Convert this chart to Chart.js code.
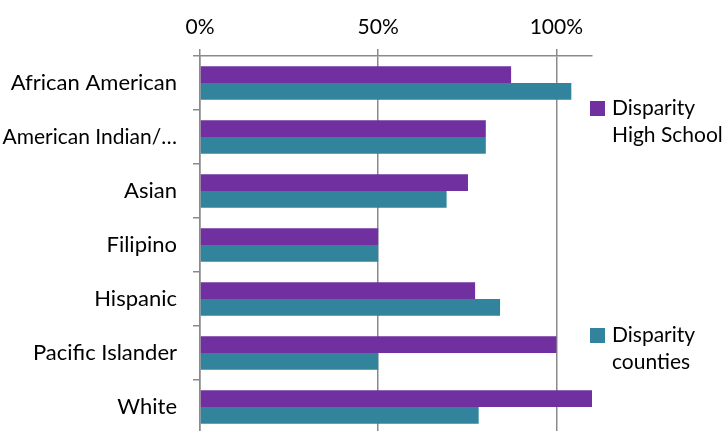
<!DOCTYPE html>
<html>
<head>
<meta charset="utf-8">
<script src="https://cdn.jsdelivr.net/npm/chart.js@4/dist/chart.umd.min.js"></script>
<style>
html,body{margin:0;padding:0;background:#fff;overflow:hidden;}
#wrap{width:723px;height:437px;position:relative;}
</style>
</head>
<body>
<div id="wrap"><canvas id="c" width="723" height="437"></canvas></div>
<script>
const categories = ["African American","American Indian/…","Asian","Filipino","Hispanic","Pacific Islander","White"];
const seriesNames = [["Disparity","High School"],["Disparity","counties"]];
const highSchool = [87.3, 80.2, 75.2, 50, 77.2, 100, 110];
const counties = [104.2, 80.2, 69.2, 50, 84.2, 50, 78.2];
const xTicks = [0, 50, 100];
const colors = ["#7030A0", "#31849B"];

const FONT = "Lato, 'Open Sans', sans-serif";
const GRID = "#8a8a8a";

const legendPlugin = {
  id: 'customLegend',
  afterDraw(chart) {
    const ctx = chart.ctx;
    const pos = [{box: 101, lines: [108, 135]}, {box: 328, lines: [335, 362]}];
    ctx.save();
    ctx.font = "21px " + FONT;
    ctx.textBaseline = "middle";
    ctx.textAlign = "left";
    chart.data.datasets.forEach((ds, i) => {
      ctx.fillStyle = ds.backgroundColor;
      ctx.fillRect(590, pos[i].box, 15, 15);
      ctx.fillStyle = "#000";
      ds.labelLines.forEach((t, j) => ctx.fillText(t, 612, pos[i].lines[j]));
    });
    ctx.restore();
  }
};

new Chart(document.getElementById('c'), {
  type: 'bar',
  data: {
    labels: categories,
    datasets: [
      {label: seriesNames[0].join(' '), labelLines: seriesNames[0], data: highSchool, backgroundColor: colors[0], categoryPercentage: 0.62, barPercentage: 1},
      {label: seriesNames[1].join(' '), labelLines: seriesNames[1], data: counties, backgroundColor: colors[1], categoryPercentage: 0.62, barPercentage: 1}
    ]
  },
  options: {
    indexAxis: 'y',
    responsive: false,
    animation: false,
    layout: {padding: {left: 0, right: 131, top: 0, bottom: 3}},
    plugins: {legend: {display: false}, tooltip: {enabled: false}},
    scales: {
      x: {
        position: 'top',
        min: 0, max: 110,
        afterBuildTicks(scale) { scale.ticks = xTicks.map(v => ({value: v})); },
        afterFit(scale) { scale.height = 56; scale.paddingLeft = 0; scale.paddingRight = 0; },
        ticks: {
          callback: v => v + '%',
          color: '#000',
          font: {family: FONT, size: 21},
          padding: 9,
          maxRotation: 0
        },
        grid: {color: GRID, lineWidth: 1.5, tickLength: 7, drawTicks: true},
        border: {color: GRID, width: 1.5}
      },
      y: {
        afterFit(scale) { scale.width = 200; scale.paddingTop = 0; scale.paddingBottom = 0; },
        ticks: {
          color: '#000',
          font: (c) => ({family: FONT, size: (c.index === 1 ? 21 : 22)}),
          padding: 16,
          autoSkip: false
        },
        grid: {drawOnChartArea: false, offset: true, color: GRID, lineWidth: 1.5, tickLength: 7},
        border: {color: GRID, width: 1.5}
      }
    }
  },
  plugins: [legendPlugin]
});
</script>
</body>
</html>
